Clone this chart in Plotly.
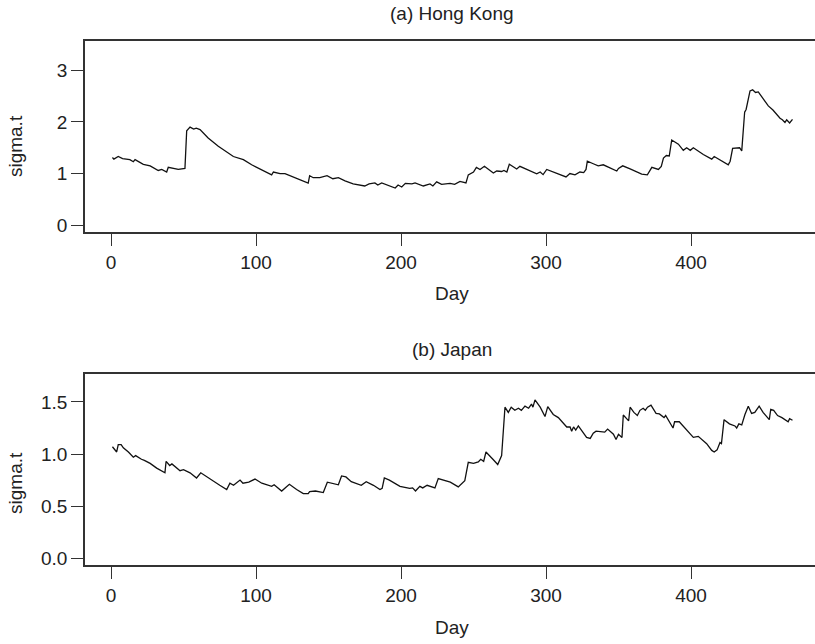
import plotly.graph_objects as go

# ---- data ----
hk_day = [1, 2, 5, 8, 13, 15.4, 16.6, 22.3, 27, 32.6, 35, 38.4, 39.5, 43, 46.4, 51,
          52.2, 54.5, 57, 58.8, 61.4, 67, 74, 84.4, 91.3, 97, 102.8, 110.8, 112, 116.6,
          120, 125.7, 136, 137, 139.5, 144, 149, 153, 156.8, 161.4, 167, 175, 178, 182,
          184, 186.7, 196, 198, 200.5, 203, 207.5, 209.7, 215.4, 220, 222, 224.6, 228,
          233.8, 237, 240.7, 244.8, 246.4, 250, 252, 254.5, 257.5, 263.7, 266, 269.4,
          271, 273, 274.7, 279.8, 282, 285.5, 293.6, 296, 298, 300.5, 305, 309.7, 313.8,
          316.5, 320, 323.4, 326, 327.6, 328.5, 332.6, 336, 339.5, 348.8, 350, 352.9,
          358, 366, 369.9, 373, 377.5, 379.5, 381, 383, 385, 386.7, 391.3, 394.7, 397,
          399.5, 401.6, 408.5, 414.3, 416, 425.7, 427, 428.7, 431, 433.5, 435, 437, 438,
          440.7, 442.5, 444.5, 446.4, 450, 453.3, 456.5, 461.4, 463, 464.8, 466, 468, 470]
hk_sigma = [1.31, 1.28, 1.33, 1.29, 1.27, 1.23, 1.27, 1.18, 1.15, 1.06, 1.08, 1.03, 1.12, 1.10, 1.08, 1.10,
            1.83, 1.90, 1.86, 1.88, 1.85, 1.69, 1.53, 1.33, 1.27, 1.17, 1.09, 0.975, 1.03, 1.0,
            1.0, 0.93, 0.815, 0.96, 0.92, 0.92, 0.96, 0.90, 0.92, 0.86, 0.80, 0.76, 0.80, 0.82,
            0.78, 0.82, 0.72, 0.78, 0.74, 0.81, 0.80, 0.82, 0.76, 0.80, 0.76, 0.84, 0.79,
            0.81, 0.79, 0.85, 0.82, 0.975, 1.03, 1.12, 1.08, 1.14, 1.01, 1.05, 1.04,
            1.06, 1.03, 1.18, 1.09, 1.14, 1.10, 0.995, 1.03, 0.98, 1.08, 1.03, 0.98, 0.935,
            1.0, 0.975, 1.03, 1.02, 1.08, 1.24, 1.19, 1.15, 1.17, 1.05, 1.10, 1.15,
            1.09, 0.99, 0.975, 1.12, 1.08, 1.14, 1.30, 1.35, 1.34, 1.65, 1.57, 1.45, 1.50,
            1.45, 1.50, 1.37, 1.28, 1.33, 1.17, 1.24, 1.49, 1.50, 1.50, 1.44, 2.19, 2.24,
            2.60, 2.62, 2.57, 2.58, 2.44, 2.31, 2.23, 2.07, 2.04, 1.99, 2.04, 1.98, 2.05]

jp_day = [1, 3.9, 5, 7, 8.5, 12, 15.4, 17, 21, 23, 27, 31.5, 37.2, 38, 40.5, 42, 47.6, 50,
          54.5, 59, 61.9, 66, 70.6, 75, 79.8, 82, 84.5, 89, 91, 95, 99.3, 104, 110.8, 112.5,
          117.7, 123, 128, 132.6, 136, 137, 141, 146.4, 149.2, 152, 156.8, 159, 162, 165.7,
          172.6, 176, 181, 185.5, 187, 188.5, 192, 199.3, 206, 208, 210, 213, 215, 218, 223.4,
          225.7, 229, 234, 239.5, 243, 244, 246.4, 250, 253.3, 255, 257, 258.6, 263.7, 266.7,
          269.4, 271.7, 274, 276, 278.5, 281, 283, 285.5, 288, 290, 291, 292.4, 296, 299.3,
          301.2, 305, 308.5, 313.1, 314.3, 316.6, 317.7, 319, 320.5, 322.3, 328, 330.5,
          332.6, 334.5, 338, 340.5, 342.5, 346.5, 348.3, 350, 352.4, 353.3, 355.6, 357,
          358, 360.6, 363, 364.8, 367, 368.5, 370, 372.4, 375.9, 378.2, 381.4, 382.5, 387.6,
          388.7, 391.9, 396.3, 401.6, 405, 410.8, 414.3, 416, 418, 420, 421, 422.8, 426.5,
          430.3, 431.5, 433, 435, 437.2, 439.5, 441.8, 444, 447, 449.7, 454, 455, 457, 459.7,
          462.7, 467, 468, 470]
jp_sigma = [1.07, 1.02, 1.09, 1.09, 1.06, 1.02, 0.97, 0.985, 0.95, 0.94, 0.91, 0.865, 0.82, 0.93, 0.89, 0.905, 0.84, 0.85,
            0.82, 0.77, 0.82, 0.78, 0.735, 0.70, 0.66, 0.72, 0.70, 0.75, 0.72, 0.73, 0.76, 0.72, 0.69, 0.705,
            0.645, 0.71, 0.66, 0.62, 0.62, 0.64, 0.645, 0.63, 0.73, 0.72, 0.705, 0.79, 0.78, 0.735,
            0.70, 0.735, 0.70, 0.66, 0.67, 0.77, 0.75, 0.69, 0.67, 0.675, 0.645, 0.69, 0.675, 0.70, 0.675,
            0.765, 0.75, 0.73, 0.685, 0.74, 0.745, 0.92, 0.91, 0.925, 0.95, 0.93, 1.02, 0.945, 0.90,
            0.985, 1.45, 1.40, 1.45, 1.42, 1.44, 1.42, 1.46, 1.44, 1.48, 1.45, 1.52, 1.45, 1.36,
            1.455, 1.38, 1.35, 1.27, 1.26, 1.26, 1.22, 1.26, 1.23, 1.27, 1.16, 1.15,
            1.20, 1.22, 1.21, 1.21, 1.24, 1.19, 1.14, 1.19, 1.16, 1.375, 1.34, 1.32,
            1.45, 1.40, 1.37, 1.42, 1.44, 1.42, 1.45, 1.47, 1.39, 1.385, 1.35, 1.37, 1.25,
            1.31, 1.31, 1.24, 1.16, 1.17, 1.10, 1.035, 1.02, 1.04, 1.11, 1.10, 1.33, 1.29,
            1.27, 1.25, 1.29, 1.28, 1.38, 1.46, 1.39, 1.40, 1.46, 1.40, 1.33, 1.43, 1.42, 1.37,
            1.35, 1.31, 1.34, 1.325]

x_ticks = [0, 100, 200, 300, 400]
hk_y_ticks = [0, 1, 2, 3]
jp_y_ticks = [0.0, 0.5, 1.0, 1.5]
jp_y_labels = ["0.0", "0.5", "1.0", "1.5"]

W, H = 815, 644
FONT = "Liberation Sans, Arial, Helvetica, sans-serif"
TXT = "#222222"
AX = "#333333"

fig = go.Figure()
fig.add_trace(go.Scatter(x=hk_day, y=hk_sigma, mode="lines",
                         line=dict(color="#111111", width=1.3), xaxis="x", yaxis="y"))
fig.add_trace(go.Scatter(x=jp_day, y=jp_sigma, mode="lines",
                         line=dict(color="#111111", width=1.3), xaxis="x2", yaxis="y2"))

def pdom(top_px, bot_px):
    return [1 - bot_px / H, 1 - top_px / H]

xr = [(85 - 111) / 1.45, (815 - 111) / 1.45]
xcommon = dict(range=xr, tickvals=x_ticks, ticks="outside", ticklen=12, tickwidth=1.2,
               tickcolor=AX, showline=True, linecolor=AX, linewidth=1.5, mirror=True,
               showgrid=False, zeroline=False, tickfont=dict(size=19, color=TXT, family=FONT))
ycommon = dict(ticks="outside", ticklen=12, tickwidth=1.2, tickcolor=AX, showline=True,
               linecolor=AX, linewidth=1.5, mirror=False, showgrid=False, zeroline=False,
               tickfont=dict(size=19, color=TXT, family=FONT))

fig.update_layout(
    width=W, height=H, plot_bgcolor="white", paper_bgcolor="white", showlegend=False,
    margin=dict(l=85, r=0, t=0, b=0),
    font=dict(family=FONT, size=19, color=TXT),
    xaxis=dict(domain=[0, 1], anchor="y", **xcommon),
    yaxis=dict(domain=pdom(41, 233.7), anchor="x", range=[-0.135, 3.57],
               tickvals=hk_y_ticks, **ycommon),
    xaxis2=dict(domain=[0, 1], anchor="y2", **xcommon),
    yaxis2=dict(domain=pdom(376, 568.7), anchor="x2", range=[-0.067, 1.772],
                tickvals=jp_y_ticks, ticktext=jp_y_labels, **ycommon),
)

def ann(text, xpx, ypx, angle=0):
    fig.add_annotation(text=text, xref="paper", yref="paper",
                       x=(xpx - 85) / (W - 85), y=1 - ypx / H,
                       xanchor="center", yanchor="middle", showarrow=False,
                       textangle=angle, font=dict(size=19, color=TXT, family=FONT))

ann("(a) Hong Kong", 452, 14)
ann("(b) Japan", 452, 352)
ann("Day", 452, 295)
ann("Day", 452, 631)
ann("sigma.t", 15.5, 147.5, -90)
ann("sigma.t", 15.5, 486.5, -90)

fig.write_html("out.html", config={"displayModeBar": False},
               post_script="document.body.style.margin='0';document.body.style.overflow='hidden';")
